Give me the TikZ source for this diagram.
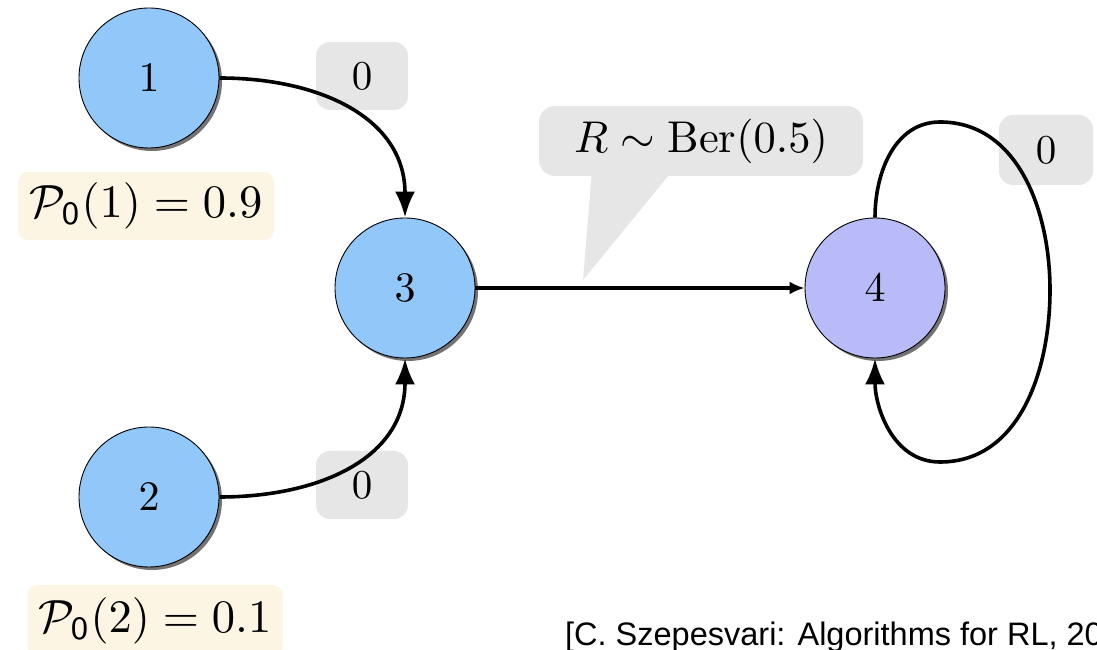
\documentclass[tikz,border=0pt]{standalone}
\usepackage{graphicx}
\usepackage{fontspec}
\newfontfamily\footfont{Liberation Sans}
\usetikzlibrary{shadows,arrows.meta}
\definecolor{nodeblue}{HTML}{92C7F9}
\definecolor{nodeviolet}{HTML}{B8BBF8}
\definecolor{lblgray}{HTML}{E6E6E6}
\definecolor{cream}{HTML}{FDF5E3}
\newcommand{\scmath}[2]{\scalebox{#1}{$#2$}}
\begin{document}
\begin{tikzpicture}[x=1pt,y=1pt,
 state/.style={circle, draw=black, line width=0.9pt, minimum size=140pt, inner sep=0pt, fill=nodeblue,
   drop shadow={shadow xshift=3pt, shadow yshift=-3pt, fill=black!55, opacity=1}},
 grlabel/.style={fill=lblgray, rounded corners=14pt, minimum width=92pt, minimum height=68pt, inner sep=0pt},
 problabel/.style={fill=cream, rounded corners=10pt, minimum height=68pt, inner sep=0pt},
 bigedge/.style={line width=3.6pt, -{Latex[length=26pt,width=20pt]}},
 smalledge/.style={line width=3.4pt, -{Latex[length=15pt,width=13pt]}},
]
\useasboundingbox (0,0) rectangle (1097,650);

% labels (behind)
\node[grlabel] (l1) at (362,574) {\scmath{4.1}{0}};
\node[grlabel] (l2) at (362,165) {\scmath{4.1}{0}};
\node[grlabel, minimum width=94pt, minimum height=70pt] (l4) at (1046,500) {\scmath{4.1}{0}};

\coordinate (ctip) at (583,370);
\fill[lblgray] (592,480) -- (ctip) -- (673,480) -- cycle;
\node[fill=lblgray, rounded corners=16pt, minimum width=324pt, minimum height=70pt, inner sep=0pt]
  (cb) at (701,509) {\scmath{4.45}{R\sim\mathrm{Ber}(0.5)}};

\node[problabel, minimum width=256pt] (p1) at (146,444) {\scmath{4.65}{\mathcal{P}_{\mathsf{0}}(1)=0.9}};
\node[problabel, minimum width=255pt, minimum height=72pt] (p2) at (155,29) {\scmath{4.65}{\mathcal{P}_{\mathsf{0}}(2)=0.1}};

% states
\node[state] (n1) at (149,572) {\scmath{4.2}{1}};
\node[state] (n2) at (149,153) {\scmath{4.2}{2}};
\node[state] (n3) at (405,362) {\scmath{4.2}{3}};
\node[state, fill=nodeviolet] (n4) at (875,362) {\scmath{4.2}{4}};

% edges
\draw[bigedge] (n1.east) to[out=0,in=90,looseness=1.1] (n3.north);
\draw[bigedge] (n2.east) to[out=0,in=-90,looseness=1.1] (n3.south);
\draw[smalledge] (n3.east) -- (n4.west);

\coordinate (lt) at (940,528);
\coordinate (lr) at (1050,360);
\coordinate (lb) at (940,188);
\draw[bigedge] (n4.north) to[out=90,in=180] (lt) to[out=0,in=90] (lr) to[out=-90,in=0] (lb) to[out=180,in=-90] (n4.south);

\node[anchor=base west, inner sep=0pt, font=\footfont\fontsize{32.5}{36}\selectfont] (cite) at (565,4) {[C. Szepesvari: Algorithms for RL, 20};
\end{tikzpicture}
\end{document}
